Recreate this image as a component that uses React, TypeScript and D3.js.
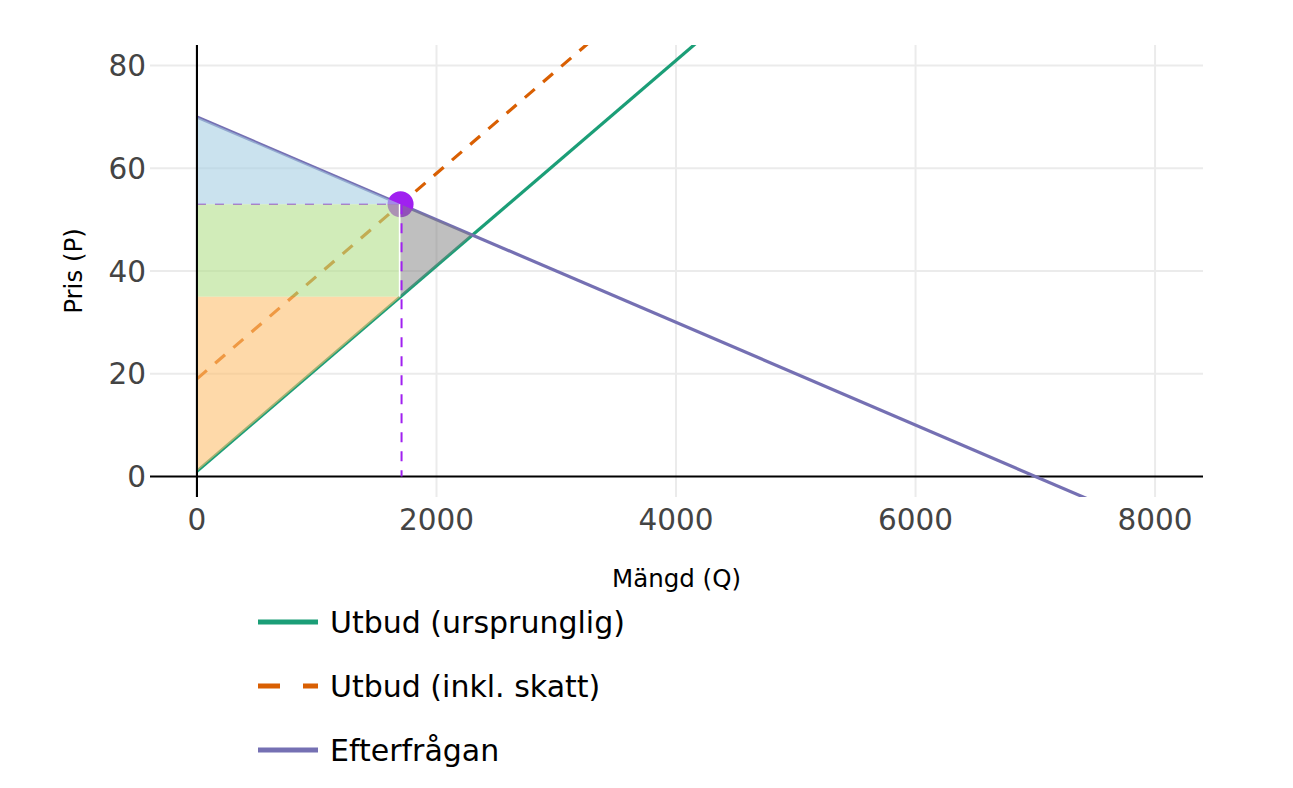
import React from "react";
import * as d3 from "d3";

// ---- data ----
const supplyQ = [0, 4300];
const supplyP = [1, 87];
const taxSupplyQ = [0, 3400];
const taxSupplyP = [19, 87];
const demandQ = [0, 7600];
const demandP = [70, -6];

const equilibriumQ = [1700];
const equilibriumP = [53];

const consumerSurplus = [
  { q: 0, p: 70 },
  { q: 1700, p: 53 },
  { q: 0, p: 53 },
];
const taxRevenue = [
  { q: 0, p: 53 },
  { q: 1700, p: 53 },
  { q: 1700, p: 35 },
  { q: 0, p: 35 },
];
const producerSurplus = [
  { q: 0, p: 35 },
  { q: 1700, p: 35 },
  { q: 0, p: 1 },
];
const deadweightLoss = [
  { q: 1700, p: 53 },
  { q: 2300, p: 47 },
  { q: 1700, p: 35 },
];

const xTicks = [0, 2000, 4000, 6000, 8000];
const yTicks = [0, 20, 40, 60, 80];

const legendLabels = ["Utbud (ursprunglig)", "Utbud (inkl. skatt)", "Efterfrågan"];

const W = 1293;
const H = 788;
const left = 150;
const right = 1203;
const top = 45;
const bottom = 497;
const FONT = "'DejaVu Sans', Verdana, sans-serif";

const GREEN = "#1b9e77";
const ORANGE = "#d95f02";
const PURPLE = "#7570b3";
const MARK = "#a020f0";

export default function App() {
  React.useEffect(() => {
    document.body.style.margin = "0";
    document.body.style.overflow = "hidden";
  }, []);

  const x = d3.scaleLinear().domain([-392, 8400]).range([left, right]);
  const y = d3.scaleLinear().domain([-4, 84]).range([bottom, top]);

  const pairLine = (qs: number[], ps: number[]) =>
    d3
      .line<number>()
      .x((_, i) => x(qs[i]))
      .y((_, i) => y(ps[i]))(qs) as string;

  const poly = (pts: { q: number; p: number }[]) =>
    (d3
      .line<{ q: number; p: number }>()
      .x((d) => x(d.q))
      .y((d) => y(d.p))(pts) as string) + "Z";

  const eqX = x(equilibriumQ[0]);
  const eqY = y(equilibriumP[0]);

  return (
    <svg
      width={W}
      height={H}
      style={{ position: "absolute", left: 0, top: 0, background: "#fff" }}
      fontFamily={FONT}
    >
      <defs>
        <clipPath id="plotClip">
          <rect x={left} y={top} width={right - left} height={bottom - top} />
        </clipPath>
      </defs>

      {/* grid */}
      {xTicks
        .filter((t) => t !== 0)
        .map((t) => (
          <line key={"gx" + t} x1={x(t)} x2={x(t)} y1={top} y2={bottom} stroke="#ebebeb" strokeWidth={2} />
        ))}
      {yTicks
        .filter((t) => t !== 0)
        .map((t) => (
          <line key={"gy" + t} x1={left} x2={right} y1={y(t)} y2={y(t)} stroke="#ebebeb" strokeWidth={2} />
        ))}

      {/* zero lines */}
      <line x1={x(0)} x2={x(0)} y1={top} y2={bottom} stroke="#000" strokeWidth={2} />
      <line x1={left} x2={right} y1={y(0)} y2={y(0)} stroke="#000" strokeWidth={2} />

      <g clipPath="url(#plotClip)">
        {/* lines */}
        <path d={pairLine(supplyQ, supplyP)} fill="none" stroke={GREEN} strokeWidth={3.2} />
        <path d={pairLine(taxSupplyQ, taxSupplyP)} fill="none" stroke={ORANGE} strokeWidth={3.2} strokeDasharray="13,11" />
        <path d={pairLine(demandQ, demandP)} fill="none" stroke={PURPLE} strokeWidth={3.2} />

        {/* equilibrium marker */}
        <circle cx={eqX} cy={eqY} r={13} fill={MARK} />

        {/* horizontal guide */}
        <line x1={x(0)} x2={eqX} y1={eqY} y2={eqY} stroke={MARK} strokeWidth={1.6} strokeDasharray="9,9" />

        {/* areas */}
        <path d={poly(consumerSurplus)} fill="rgba(166,206,227,0.6)" />
        <path d={poly(taxRevenue)} fill="rgba(178,223,138,0.6)" />
        <path d={poly(producerSurplus)} fill="rgba(253,191,111,0.6)" />
        <path d={poly(deadweightLoss)} fill="rgba(128,128,128,0.5)" />

        {/* vertical guide */}
        <line x1={eqX - 1} x2={eqX - 1} y1={eqY} y2={y(35)} stroke="#fff" strokeWidth={1.5} />
        <line x1={eqX + 1} x2={eqX + 1} y1={eqY} y2={y(0)} stroke={MARK} strokeWidth={2} strokeDasharray="10,9" />
      </g>

      {/* redraw zero line on left so it stays crisp */}
      <line x1={x(0)} x2={x(0)} y1={top} y2={bottom} stroke="#000" strokeWidth={2} />

      {/* tick labels */}
      {xTicks.map((t) => (
        <text key={"tx" + t} x={x(t)} y={530} textAnchor="middle" fontSize={29.5} fill="#444">
          {t}
        </text>
      ))}
      {yTicks.map((t) => (
        <text key={"ty" + t} x={146} y={y(t)} dy="0.36em" textAnchor="end" fontSize={29.5} fill="#444">
          {t}
        </text>
      ))}

      {/* axis titles */}
      <text x={(left + right) / 2} y={587} textAnchor="middle" fontSize={24.5} fill="#000">
        Mängd (Q)
      </text>
      <text transform={`translate(82,${(top + bottom) / 2}) rotate(-90)`} textAnchor="middle" fontSize={24.5} fill="#000">
        Pris (P)
      </text>

      {/* legend */}
      {legendLabels.map((lab, i) => {
        const ly = 622 + i * 64;
        const color = [GREEN, ORANGE, PURPLE][i];
        return (
          <g key={lab}>
            <line
              x1={258}
              x2={318}
              y1={ly}
              y2={ly}
              stroke={color}
              strokeWidth={5}
              strokeDasharray={i === 1 ? "22,23" : undefined}
            />
            <text x={330} y={ly + 10.5} fontSize={30} fill="#000">
              {lab}
            </text>
          </g>
        );
      })}
    </svg>
  );
}
